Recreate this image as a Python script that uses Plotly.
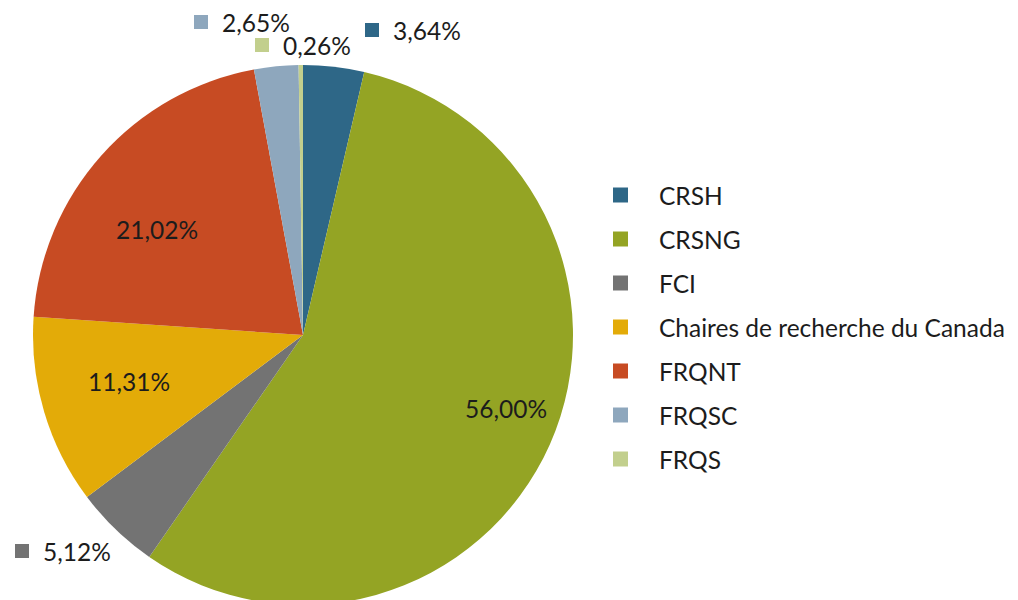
import plotly.graph_objects as go

# ---- data ----
labels = ["CRSH", "CRSNG", "FCI", "Chaires de recherche du Canada", "FRQNT", "FRQSC", "FRQS"]
values = [3.64, 56.00, 5.12, 11.31, 21.02, 2.65, 0.26]
colors = ["#2E6787", "#94A424", "#737373", "#E3AB08", "#C74B23", "#8EA7BD", "#C2CF8D"]

OFF = 8  # page body margin
W, H = 1018 - OFF, 620
FONT = "Lato"
FS = 24.5
TXT = "#1C1C1C"

def fmt(v):
    return f"{v:.2f}".replace(".", ",") + "%"

def px(x):
    return (x - OFF) / W

def py(y):
    return 1 - (y - OFF) / H

fig = go.Figure(go.Pie(
    labels=labels,
    values=values,
    textinfo="none",
    marker=dict(colors=colors, line=dict(width=0)),
    sort=False,
    direction="clockwise",
    rotation=0,
    showlegend=False,
    domain=dict(x=[px(33), px(573)], y=[py(605), py(65)]),
    hoverinfo="label+value",
))

shapes = []
annotations = []

# value labels drawn inside the large slices
inside_pos = {1: (506, 408), 3: (129, 381), 4: (157, 229)}
for i, (xc, yc) in inside_pos.items():
    annotations.append(dict(xref="paper", yref="paper", x=px(xc), y=py(yc),
                            xanchor="center", yanchor="middle", showarrow=False,
                            text=fmt(values[i]),
                            font=dict(family=FONT, size=FS, color=TXT)))

# outside labels for small slices (square key + value)
outside_pos = {0: (365, 30), 5: (194, 22), 6: (255, 45), 2: (15, 551)}
for i, (x0, yc) in outside_pos.items():
    shapes.append(dict(type="rect", xref="paper", yref="paper",
                       x0=px(x0), x1=px(x0 + 14), y0=py(yc - 7), y1=py(yc + 7),
                       fillcolor=colors[i], line=dict(width=0)))
    annotations.append(dict(xref="paper", yref="paper", x=px(x0 + 26), y=py(yc),
                            xanchor="left", yanchor="middle", showarrow=False,
                            text=fmt(values[i]),
                            font=dict(family=FONT, size=FS, color=TXT)))

# legend
leg_y0, leg_dy = 195, 44
for i, lab in enumerate(labels):
    yc = leg_y0 + i * leg_dy
    shapes.append(dict(type="rect", xref="paper", yref="paper",
                       x0=px(613), x1=px(628), y0=py(yc - 7.5), y1=py(yc + 7.5),
                       fillcolor=colors[i], line=dict(width=0)))
    annotations.append(dict(xref="paper", yref="paper", x=px(657), y=py(yc),
                            xanchor="left", yanchor="middle", showarrow=False,
                            text=lab, font=dict(family=FONT, size=FS, color=TXT)))

fig.update_layout(
    width=W, height=H,
    margin=dict(l=0, r=0, t=0, b=0),
    paper_bgcolor="white",
    plot_bgcolor="white",
    shapes=shapes,
    annotations=annotations,
    font=dict(family=FONT, size=FS, color=TXT),
)

fig.write_html("out.html")
